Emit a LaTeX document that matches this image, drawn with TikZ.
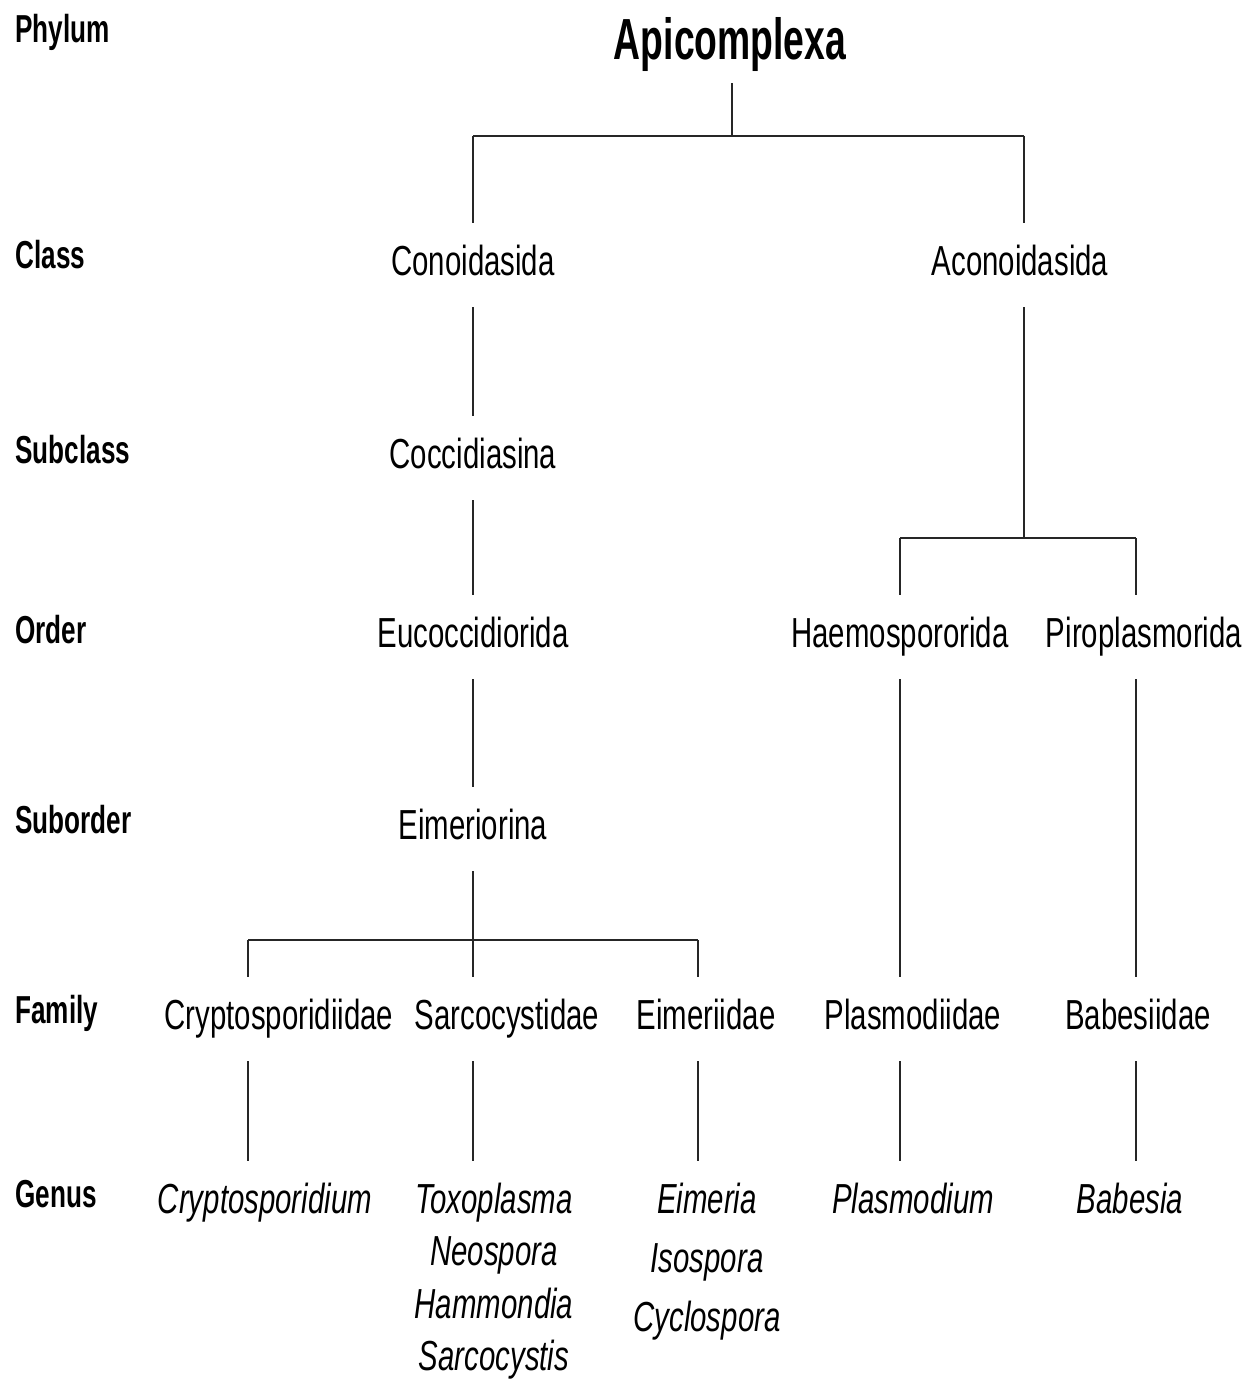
\documentclass[tikz,border=0pt]{standalone}
\usepackage{fontspec}
\setmainfont{Liberation Sans}
\usepackage{graphicx}
\newcommand\sqn[1]{\scalebox{0.70}[1]{#1}}
\newcommand\sql[1]{\scalebox{0.67}[1]{#1}}
\newcommand\sqt[1]{\scalebox{0.643}[1]{#1}}
\begin{document}
\begin{tikzpicture}[x=0.5pt,y=-0.5pt,
  lbl/.style={anchor=base west, inner sep=0pt, font=\fontsize{19.5pt}{22pt}\selectfont\bfseries},
  tax/.style={anchor=base, inner xsep=0pt, inner ysep=10pt, text height=15.75pt, text depth=6pt, font=\fontsize{21pt}{26pt}\selectfont},
  gen/.style={tax, font=\fontsize{21pt}{26pt}\selectfont\itshape},
  titl/.style={anchor=base, inner xsep=0pt, inner ysep=10pt, text depth=1.5pt, font=\fontsize{29pt}{32pt}\selectfont\bfseries},
  conn/.style={draw=black!85, line width=1pt}]
\fill[white] (0,0) rectangle (1255,1380);
\useasboundingbox (0,0) rectangle (1255,1380);

% rank labels
\node[lbl] (lphy) at (15,43) {\sql{Phylum}};
\node[lbl] (lcla) at (15,268) {\sql{Class}};
\node[lbl] (lsub) at (15,463) {\sql{Subclass}};
\node[lbl] (lord) at (15,643) {\sql{Order}};
\node[lbl] (lsor) at (15,833) {\sql{Suborder}};
\node[lbl] (lfam) at (15,1023) {\sql{Family}};
\node[lbl] (lgen) at (15,1207) {\sql{Genus}};

% taxa
\node[titl] (api) at (730,60) {\sqt{Apicomplexa}};
\node[tax] (cono) at (473,275) {\sqn{Conoidasida}};
\node[tax] (acono) at (1020,275) {\sqn{Aconoidasida}};
\node[tax] (cocc) at (473,468) {\sqn{Coccidiasina}};
\node[tax] (euc) at (473,647) {\sqn{Eucoccidiorida}};
\node[tax] (haem) at (900,647) {\sqn{Haemospororida}};
\node[tax] (piro) at (1144,647) {\sqn{Piroplasmorida}};
\node[tax] (eime) at (473,839) {\sqn{Eimeriorina}};
\node[tax] (crypf) at (279,1029) {\sqn{Cryptosporidiidae}};
\node[tax] (sarcf) at (507,1029) {\sqn{Sarcocystidae}};
\node[tax] (eimf) at (706,1029) {\sqn{Eimeriidae}};
\node[tax] (plasf) at (913,1029) {\sqn{Plasmodiidae}};
\node[tax] (babf) at (1138,1029) {\sqn{Babesiidae}};

\node[gen] (crypg) at (265,1213) {\sqn{Cryptosporidium}};
\node[gen, font=\fontsize{21pt}{26.25pt}\selectfont\itshape] (toxg) at (494,1213)
  {\sqn{\begin{tabular}[t]{@{}c@{}}Toxoplasma\\Neospora\\Hammondia\\Sarcocystis\end{tabular}}};
\node[gen, font=\fontsize{21pt}{29.5pt}\selectfont\itshape] (eimg) at (707,1213)
  {\sqn{\begin{tabular}[t]{@{}c@{}}Eimeria\\Isospora\\Cyclospora\end{tabular}}};
\node[gen] (plasg) at (913,1213) {\sqn{Plasmodium}};
\node[gen] (babg) at (1130,1213) {\sqn{Babesia}};

% junctions
\coordinate (j1) at (732,136);
\coordinate (j1l) at (473,136);
\coordinate (j1r) at (1024,136);
\coordinate (j2) at (473,940);
\coordinate (j2l) at (248,940);
\coordinate (j2r) at (698,940);
\coordinate (j3) at (1024,538);
\coordinate (j3l) at (900,538);
\coordinate (j3r) at (1136,538);

% connectors
\draw[conn] (api.south -| j1) -- (j1);
\draw[conn] (j1l) -- (j1r);
\draw[conn] (j1l) -- (j1l |- cono.north);
\draw[conn] (j1r) -- (j1r |- acono.north);
\draw[conn] (cono.south) -- (cocc.north);
\draw[conn] (cocc.south) -- (euc.north);
\draw[conn] (euc.south) -- (eime.north);
\draw[conn] (eime.south) -- (eime.south |- sarcf.north);
\draw[conn] (j2l) -- (j2r);
\draw[conn] (j2l) -- (j2l |- crypf.north);
\draw[conn] (j2r) -- (j2r |- eimf.north);
\draw[conn] (acono.south -| j1r) -- (j3);
\draw[conn] (j3l) -- (j3r);
\draw[conn] (j3l) -- (j3l |- haem.north);
\draw[conn] (j3r) -- (j3r |- piro.north);
\draw[conn] (haem.south) -- (haem.south |- plasf.north);
\draw[conn] (piro.south -| j3r) -- (j3r |- babf.north);
\draw[conn] (crypf.south -| j2l) -- (crypg.north -| j2l);
\draw[conn] (sarcf.south -| j2) -- (toxg.north -| j2);
\draw[conn] (eimf.south -| j2r) -- (eimg.north -| j2r);
\draw[conn] (plasf.south -| j3l) -- (plasg.north -| j3l);
\draw[conn] (babf.south -| j3r) -- (babg.north -| j3r);
\end{tikzpicture}
\end{document}
